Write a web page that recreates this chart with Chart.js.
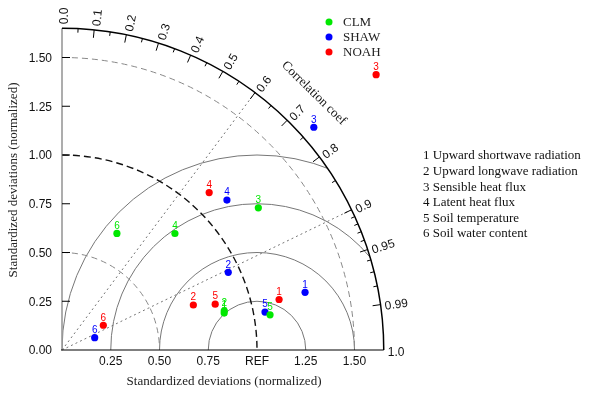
<!DOCTYPE html>
<html><head><meta charset="utf-8">
<script src="https://cdn.jsdelivr.net/npm/chart.js@4/dist/chart.umd.min.js"></script>
<style>html,body{margin:0;padding:0;background:#fff}canvas{display:block}</style>
</head><body>
<canvas id="c" width="595" height="394"></canvas>
<script>
// ---- data ----
const models = ['CLM', 'SHAW', 'NOAH'];
const variableIds = ['1', '2', '3', '4', '5', '6'];
const variables = ['Upward shortwave radiation', 'Upward longwave radiation', 'Sensible heat flux',
                   'Latent heat flux', 'Soil temperature', 'Soil water content'];
// standardized deviations (normalized) and correlation coefficients per model
const clmStd   = [0.853, 0.856, 1.243, 0.832, 1.082, 0.661];
const clmCorr  = [0.975, 0.972, 0.810, 0.696, 0.986, 0.426];
const shawStd  = [1.281, 0.941, 1.724, 1.143, 1.059, 0.179];
const shawCorr = [0.973, 0.906, 0.749, 0.740, 0.983, 0.936];
const noahStd  = [1.143, 0.712, 2.142, 1.105, 0.820, 0.247];
const noahCorr = [0.974, 0.946, 0.752, 0.683, 0.958, 0.858];
// axes / grid
const maxStd = 1.65;
const refStd = 1.0;
const yTickValues = [0, 0.25, 0.5, 0.75, 1.0, 1.25, 1.5];
const yTickLabels = ['0.00', '0.25', '0.50', '0.75', '1.00', '1.25', '1.50'];
const xTickValues = [0.25, 0.5, 0.75, 1.0, 1.25, 1.5];
const xTickLabels = ['0.25', '0.50', '0.75', 'REF', '1.25', '1.50'];
const corrLabelValues = [0, 0.1, 0.2, 0.3, 0.4, 0.5, 0.6, 0.7, 0.8, 0.9, 0.95, 0.99, 1.0];
const corrLabels = ['0.0', '0.1', '0.2', '0.3', '0.4', '0.5', '0.6', '0.7', '0.8', '0.9', '0.95', '0.99', '1.0'];
const corrMinorValues = [0.05, 0.15, 0.25, 0.35, 0.45, 0.55, 0.65, 0.75, 0.85,
                         0.91, 0.92, 0.93, 0.94, 0.96, 0.97, 0.98];
const stdArcs = [0.5, 1.0, 1.5];
const rmsArcs = [0.25, 0.5, 0.75, 1.0];
const corrRays = [0.6, 0.9];

// ---- styles ----
const modelColors = ['#00e800', '#0000ff', '#ff0000'];
const SERIF = '"Liberation Serif", "Times New Roman", serif';
const SANS = '"Liberation Sans", Arial, sans-serif';

function toXY(std, corr) {
  return std.map((s, i) => ({ x: s * corr[i], y: s * Math.sqrt(Math.max(0, 1 - corr[i] * corr[i])) }));
}
const stdSets = [clmStd, shawStd, noahStd];
const corrSets = [clmCorr, shawCorr, noahCorr];

const taylorPlugin = {
  id: 'taylor',
  beforeDatasetsDraw(chart) {
    const { ctx, scales: { x, y } } = chart;
    const ox = x.getPixelForValue(0), oy = y.getPixelForValue(0);
    const k = x.getPixelForValue(1) - ox;
    const R = maxStd * k;
    ctx.save();

    // RMS arcs centered on REF, clipped to diagram sector
    ctx.save();
    ctx.beginPath();
    ctx.moveTo(ox, oy);
    ctx.arc(ox, oy, R, -Math.PI / 2, 0);
    ctx.closePath();
    ctx.clip();
    const rx = x.getPixelForValue(refStd);
    ctx.strokeStyle = '#777';
    ctx.lineWidth = 1;
    ctx.setLineDash([]);
    rmsArcs.forEach(r => {
      ctx.beginPath();
      ctx.arc(rx, oy, r * k, -Math.PI, 0);
      ctx.stroke();
    });
    ctx.restore();

    // std arcs
    stdArcs.forEach(s => {
      ctx.beginPath();
      if (s === refStd) { ctx.strokeStyle = '#111'; ctx.lineWidth = 1.4; ctx.setLineDash([7, 4]); }
      else { ctx.strokeStyle = '#888'; ctx.lineWidth = 1; ctx.setLineDash([6, 4]); }
      ctx.arc(ox, oy, s * k, -Math.PI / 2, 0);
      ctx.stroke();
    });

    // correlation rays
    ctx.strokeStyle = '#777';
    ctx.lineWidth = 1;
    ctx.setLineDash([2, 3]);
    corrRays.forEach(c => {
      const th = Math.acos(c);
      ctx.beginPath();
      ctx.moveTo(ox, oy);
      ctx.lineTo(x.getPixelForValue(maxStd * c), y.getPixelForValue(maxStd * Math.sin(th)));
      ctx.stroke();
    });
    ctx.setLineDash([]);

    // y axis (grey) and x axis (black)
    ctx.strokeStyle = '#999';
    ctx.lineWidth = 1.6;
    ctx.beginPath();
    ctx.moveTo(ox, oy);
    ctx.lineTo(ox, y.getPixelForValue(maxStd));
    ctx.stroke();
    ctx.strokeStyle = '#000';
    ctx.lineWidth = 1.2;
    ctx.beginPath();
    ctx.moveTo(ox - 1, oy);
    ctx.lineTo(x.getPixelForValue(maxStd), oy);
    ctx.stroke();

    // outer arc
    ctx.lineWidth = 1.5;
    ctx.beginPath();
    ctx.arc(ox, oy, R, -Math.PI / 2, 0);
    ctx.stroke();

    // outer arc ticks
    ctx.lineWidth = 1;
    const tick = (c, len) => {
      const th = Math.acos(c);
      const cx = Math.cos(th), cy = Math.sin(th);
      ctx.beginPath();
      ctx.moveTo(ox + R * cx, oy - R * cy);
      ctx.lineTo(ox + (R - len) * cx, oy - (R - len) * cy);
      ctx.stroke();
    };
    corrLabelValues.forEach(c => { if (c > 0 && c < 1) tick(c, 8); });
    corrMinorValues.forEach(c => tick(c, 4));

    // y ticks
    ctx.strokeStyle = '#000';
    yTickValues.forEach(v => {
      if (v === 0) return;
      const py = y.getPixelForValue(v);
      ctx.beginPath();
      ctx.moveTo(ox, py);
      ctx.lineTo(ox + 8, py);
      ctx.stroke();
    });

    // tick labels
    ctx.fillStyle = '#111';
    ctx.font = '12px ' + SANS;
    ctx.textAlign = 'right';
    ctx.textBaseline = 'middle';
    yTickValues.forEach((v, i) => ctx.fillText(yTickLabels[i], ox - 10, y.getPixelForValue(v) + 1));
    ctx.textAlign = 'center';
    xTickValues.forEach((v, i) => ctx.fillText(xTickLabels[i], x.getPixelForValue(v), oy + 12));

    // correlation labels
    ctx.textAlign = 'left';
    corrLabelValues.forEach((c, i) => {
      const th = Math.acos(c);
      ctx.save();
      ctx.translate(ox + (R + 4) * Math.cos(th), oy - (R + 4) * Math.sin(th));
      ctx.rotate(-th);
      ctx.fillText(corrLabels[i], 0, 2.5);
      ctx.restore();
    });

    // "Correlation coef"
    ctx.font = '13px ' + SERIF;
    ctx.textAlign = 'center';
    {
      const th = Math.acos(0.70);
      ctx.save();
      ctx.translate(ox + (R + 38) * Math.cos(th), oy - (R + 38) * Math.sin(th));
      ctx.rotate(Math.PI / 2 - th);
      ctx.fillText('Correlation coef', 0, 0);
      ctx.restore();
    }

    // axis titles
    ctx.fillStyle = '#222';
    ctx.fillText('Standardized deviations (normalized)', 224, 382);
    ctx.save();
    ctx.translate(14, 180);
    ctx.rotate(-Math.PI / 2);
    ctx.fillText('Standardized deviations (normalized)', 0, 0);
    ctx.restore();

    // model legend
    ctx.textAlign = 'left';
    models.forEach((m, i) => {
      const ly = 22 + i * 15;
      ctx.fillStyle = modelColors[i];
      ctx.beginPath();
      ctx.arc(329, ly, 3.5, 0, Math.PI * 2);
      ctx.fill();
      ctx.fillStyle = '#222';
      ctx.fillText(m, 343, ly + 1);
    });

    // variable list
    ctx.fillStyle = '#111';
    variables.forEach((v, i) => ctx.fillText(variableIds[i] + ' ' + v, 423, 156 + i * 15.6));

    ctx.restore();
  },
  afterDatasetsDraw(chart) {
    const { ctx } = chart;
    ctx.save();
    ctx.font = '10px ' + SANS;
    ctx.textAlign = 'center';
    ctx.textBaseline = 'middle';
    chart.data.datasets.forEach((ds, di) => {
      const meta = chart.getDatasetMeta(di);
      ctx.fillStyle = ds.backgroundColor;
      meta.data.forEach((el, j) => ctx.fillText(variableIds[j], el.x, el.y - 7.5));
    });
    ctx.restore();
  }
};

new Chart(document.getElementById('c'), {
  type: 'scatter',
  data: {
    datasets: models.map((m, i) => ({
      label: m,
      data: toXY(stdSets[i], corrSets[i]),
      backgroundColor: modelColors[i],
      borderColor: modelColors[i],
      borderWidth: 0,
      pointRadius: 3.6,
      clip: false
    }))
  },
  options: {
    responsive: false,
    animation: false,
    layout: { padding: { left: 62, right: 211.25, top: 28.25, bottom: 44 } },
    plugins: { legend: { display: false }, tooltip: { enabled: false } },
    scales: {
      x: { type: 'linear', min: 0, max: maxStd, display: false },
      y: { type: 'linear', min: 0, max: maxStd, display: false }
    }
  },
  plugins: [taylorPlugin]
});
</script>
</body></html>
